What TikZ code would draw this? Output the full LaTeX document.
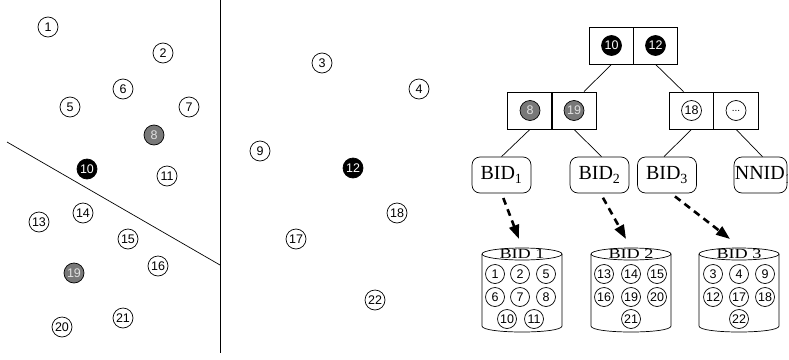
\documentclass[tikz,border=0pt]{standalone}
\usepackage{fontspec}
\setmainfont{Liberation Sans}
\newfontfamily\seriffont{Liberation Serif}
\usetikzlibrary{arrows.meta}
\definecolor{midgray}{HTML}{787878}
\definecolor{lightgray}{HTML}{E0E0E0}
\tikzset{
  pt/.style={circle,draw,line width=0.7pt,minimum size=20pt,inner sep=0pt,font=\fontsize{12.5}{13}\selectfont},
  cpt/.style={pt,minimum size=19pt,font=\fontsize{12.5}{13}\selectfont},
  gpt/.style={pt,fill=midgray,text=lightgray},
  bpt/.style={pt,fill=black,text=white},
  cell/.style={draw,line width=0.7pt,minimum width=44.5pt,minimum height=37pt,inner sep=0pt},
  bidbox/.style={draw,line width=0.7pt,rounded corners=8pt,minimum width=59pt,minimum height=36pt,inner sep=1pt,font=\seriffont\fontsize{20}{22}\selectfont},
  treeline/.style={line width=0.7pt},
  fetch/.style={line width=2.6pt,dash pattern=on 7pt off 5pt,-{Triangle[length=14pt,width=10pt]}},
  cyl/.style={line width=0.7pt},
  cyllabel/.style={inner sep=0pt,font=\seriffont\fontsize{14}{15}\selectfont},
}
\begin{document}
\begin{tikzpicture}[x=1pt,y=-1pt]
\useasboundingbox (0,0) rectangle (789,359);
\clip (0,0) rectangle (789,359);

% partition lines
\draw[line width=0.7pt] (220,0) -- (220,353);
\draw[line width=0.7pt] (7,142) -- (220,265);

% data points
\foreach \n/\x/\y in {1/48/27, 2/163/53, 6/123/89, 5/70/107, 7/189/107, 11/167/176,
  13/39/222, 14/83/213, 15/128/239, 16/158/266, 20/62/327, 21/123/318,
  3/322/63, 4/419/89, 9/260/151, 18/397/213, 17/296/239, 22/375/300}
  \node[pt] (p\n) at (\x,\y) {\n};
\node[gpt] (p8) at (154,135) {8};
\node[gpt] (p19) at (74,273) {19};
\node[bpt] (p10) at (87,169) {10};
\node[bpt] (p12) at (353,168) {12};

% tree
\node[cell] (t1) at (611.5,45.5) {};
\node[cell] (t2) at (655.5,45.5) {};
\node[bpt] (t1c) at (t1) {10};
\node[bpt] (t2c) at (t2) {12};

\node[cell] (l1) at (530,110.5) {};
\node[cell] (l2) at (574,110.5) {};
\node[gpt] (l1c) at (l1) {8};
\node[gpt] (l2c) at (l2) {19};

\node[cell] (r1) at (691.5,110.5) {};
\node[cell] (r2) at (736,110.5) {};
\node[pt] (r1c) at (r1) {18};
\node[pt,font=\fontsize{10}{11}\selectfont] (r2c) at (r2) {...};

\node[bidbox] (bid1) at (501.5,175) {BID\textsubscript{1}};
\node[bidbox] (bid2) at (599.5,175) {BID\textsubscript{2}};
\node[bidbox] (bid3) at (667,175) {BID\textsubscript{3}};
\node[bidbox,minimum width=53pt] (nnid) at (760.5,175) {};
\begin{scope}
  \clip (nnid.north west) rectangle (nnid.south east);
  \node[anchor=west,inner sep=1pt,font=\seriffont\fontsize{20}{22}\selectfont] (nnidt) at (nnid.west) {NNID\textsubscript{1}};
\end{scope}

\draw[treeline] (t1.south) -- ([xshift=10pt]l2.north);
\draw[treeline] (t2.south) -- ([xshift=-8pt]r1.north);
\draw[treeline] (l1.south) -- (bid1.north);
\draw[treeline] (l2.south) -- ([xshift=2pt]bid2.north);
\draw[treeline] (r1.south) -- ([xshift=-3pt]bid3.north);
\draw[treeline] (r2.south) -- ([xshift=2pt]nnid.north);

% cylinders
\foreach \cx/\k in {522/1, 631/2, 739/3} {
  \draw[cyl] (\cx,254) ellipse [x radius=40, y radius=6];
  \draw[cyl] (\cx-40,254) -- (\cx-40,326) .. controls (\cx-40,334) and (\cx+40,334) .. (\cx+40,326) -- (\cx+40,254);
  \node[cyllabel] (cyl\k) at (\cx,254) {\scalebox{1.3}[1]{BID \k}};
}

% arrows
\coordinate (a1) at (519,239);
\coordinate (a2) at (626,239);
\coordinate (a3) at (730,239);
\draw[fetch,shorten <=5pt] (bid1.south) -- (a1);
\draw[fetch,shorten <=5pt] ([xshift=1pt]bid2.south) -- (a2);
\draw[fetch,shorten <=5pt] ([xshift=4pt]bid3.south) -- (a3);

% cylinder contents
\foreach \n/\x/\y in {1/495/274, 2/520/274, 5/546/274, 6/495/297, 7/520/297, 8/546/297, 10/507/319, 11/534/319,
  13/604/274, 14/631/274, 15/657/274, 16/604/297, 19/631/297, 20/657/297, 21/631/319,
  3/713/274, 4/739/274, 9/765/274, 12/713/297, 17/739/297, 18/765/297, 22/739/319}
  \node[cpt] (c\n) at (\x,\y) {\n};
\end{tikzpicture}
\end{document}
